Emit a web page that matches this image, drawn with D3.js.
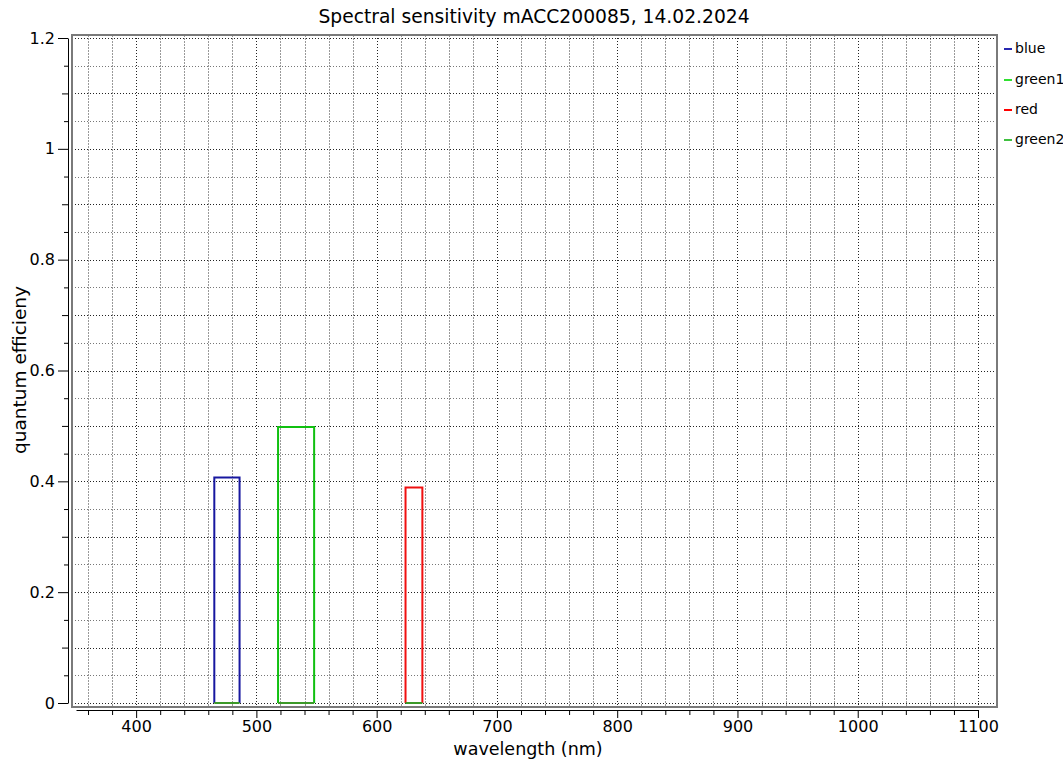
<!DOCTYPE html>
<html>
<head>
<meta charset="utf-8">
<script src="https://cdn.jsdelivr.net/npm/d3@7"></script>
<style>
  html, body { margin: 0; padding: 0; background: #fff; }
  svg { display: block; font-family: "DejaVu Sans", Verdana, sans-serif; }
</style>
</head>
<body>
<svg id="chart" width="1063" height="760"></svg>
<script>
// ---- data ----
const seriesNames = ["blue", "green1", "red", "green2"];
const seriesColors = ["#1818a0", "#10c010", "#f01010", "#3c9a28"];
const legendColors = ["#2828b0", "#30e030", "#ff0000", "#40c040"];

const blueWl = [465, 465, 486, 486];
const blueQE = [0, 0.407, 0.407, 0];
const green1Wl = [518, 518, 548, 548];
const green1QE = [0, 0.498, 0.498, 0];
const redWl = [624, 624, 638, 638];
const redQE = [0, 0.389, 0.389, 0];
const green2Wl = [465, 486, null, 518, 548, null, 624, 638];
const green2QE = [0, 0, null, 0, 0, null, 0, 0];

const xTickLabels = [400, 500, 600, 700, 800, 900, 1000, 1100];
const yTickLabels = [0, 0.2, 0.4, 0.6, 0.8, 1, 1.2];

const titleText = "Spectral sensitivity mACC200085, 14.02.2024";
const xTitle = "wavelength (nm)";
const yTitle = "quantum efficieny";

// ---- layout ----
const svg = d3.select("#chart");
const x = d3.scaleLinear().domain([350, 1100]).range([76, 978]);
const y = d3.scaleLinear().domain([0, 1.2]).range([703, 38]);
const canvas = { x0: 72, y0: 35, x1: 997, y1: 707 };

// grid
const xMinor = d3.range(360, 1101, 20).filter(v => x(v) > canvas.x0 && x(v) < canvas.x1);
const yMinor = d3.range(0, 1.2001, 0.05).map(v => +v.toFixed(2));

const grid = svg.append("g");
grid.selectAll("line.vx").data(xMinor).join("line")
  .attr("x1", d => Math.round(x(d)) + 0.5).attr("x2", d => Math.round(x(d)) + 0.5)
  .attr("y1", canvas.y0).attr("y2", canvas.y1)
  .attr("stroke", d => (d % 100 === 0) ? "#222" : "#999")
  .attr("stroke-width", 1)
  .attr("stroke-dasharray", d => (d % 100 === 0) ? "1,2" : "2,1");
grid.selectAll("line.hy").data(yMinor).join("line")
  .attr("x1", canvas.x0).attr("x2", canvas.x1)
  .attr("y1", d => Math.round(y(d)) + 0.5).attr("y2", d => Math.round(y(d)) + 0.5)
  .attr("stroke", d => (Math.abs(d * 10 - Math.round(d * 10)) < 1e-6) ? "#222" : "#777")
  .attr("stroke-width", 1)
  .attr("stroke-dasharray", "1,2");

// canvas frame
svg.append("rect")
  .attr("x", canvas.x0).attr("y", canvas.y0)
  .attr("width", canvas.x1 - canvas.x0).attr("height", canvas.y1 - canvas.y0)
  .attr("fill", "none").attr("stroke", "#7a7a7a").attr("stroke-width", 2);

// series
const line = d3.line()
  .defined(d => d[0] !== null && d[1] !== null)
  .x(d => x(d[0])).y(d => y(d[1]));
const allWl = [blueWl, green1Wl, redWl, green2Wl];
const allQE = [blueQE, green1QE, redQE, green2QE];
const plot = svg.append("g");
seriesNames.forEach((name, i) => {
  const pts = allWl[i].map((w, k) => [w, allQE[i][k]]);
  plot.append("path")
    .attr("d", line(pts))
    .attr("fill", "none")
    .attr("stroke", seriesColors[i])
    .attr("stroke-width", 2);
});

// x axis
const xAxisY = 710;
const xMinorTicks = d3.range(360, 1101, 20).filter(v => v % 100 !== 0);
svg.append("g").attr("transform", `translate(0,${xAxisY})`)
  .call(d3.axisBottom(x).tickValues(xMinorTicks).tickSize(5).tickSizeOuter(0).tickFormat(""))
  .call(g => g.select(".domain").attr("stroke", "#000"));
const xMaj = svg.append("g").attr("transform", `translate(0,${xAxisY})`)
  .call(d3.axisBottom(x).tickValues(xTickLabels).tickSize(8).tickSizeOuter(0).tickPadding(3).tickFormat(d3.format("d")));
xMaj.select(".domain").remove();
xMaj.selectAll("text").attr("font-size", 16).attr("font-family", "DejaVu Sans").attr("fill", "#000");

// y axis
const yAxisX = 68;
const yMedium = d3.range(0.1, 1.2, 0.2).map(v => +v.toFixed(2));
const ySmall = d3.range(0.05, 1.2, 0.1).map(v => +v.toFixed(2));
svg.append("g").attr("transform", `translate(${yAxisX},0)`)
  .call(d3.axisLeft(y).tickValues(ySmall).tickSize(4).tickSizeOuter(0).tickFormat(""))
  .call(g => g.select(".domain").attr("stroke", "#000"));
svg.append("g").attr("transform", `translate(${yAxisX},0)`)
  .call(d3.axisLeft(y).tickValues(yMedium).tickSize(6).tickSizeOuter(0).tickFormat(""))
  .call(g => g.select(".domain").remove());
const yMaj = svg.append("g").attr("transform", `translate(${yAxisX},0)`)
  .call(d3.axisLeft(y).tickValues(yTickLabels).tickSize(10).tickSizeOuter(0).tickPadding(3)
    .tickFormat(d => String(+d.toFixed(1))));
yMaj.select(".domain").remove();
yMaj.selectAll("text").attr("font-size", 16).attr("font-family", "DejaVu Sans").attr("fill", "#000");

// titles
svg.append("text").attr("x", 534).attr("y", 23).attr("text-anchor", "middle")
  .attr("font-size", 18.7).text(titleText);
svg.append("text").attr("x", 528).attr("y", 755).attr("text-anchor", "middle")
  .attr("font-size", 17.5).text(xTitle);
svg.append("text").attr("transform", "translate(26,370) rotate(-90)").attr("text-anchor", "middle")
  .attr("font-size", 18.5).text(yTitle);

// legend
const legendY = [48, 79, 109, 139];
const lg = svg.append("g");
seriesNames.forEach((name, i) => {
  lg.append("rect").attr("x", 1004).attr("y", legendY[i])
    .attr("width", 8).attr("height", 2)
    .attr("fill", legendColors[i]);
  lg.append("text").attr("x", 1015).attr("y", legendY[i]).attr("dy", "0.35em")
    .attr("font-size", 14).text(name);
});
</script>
</body>
</html>
